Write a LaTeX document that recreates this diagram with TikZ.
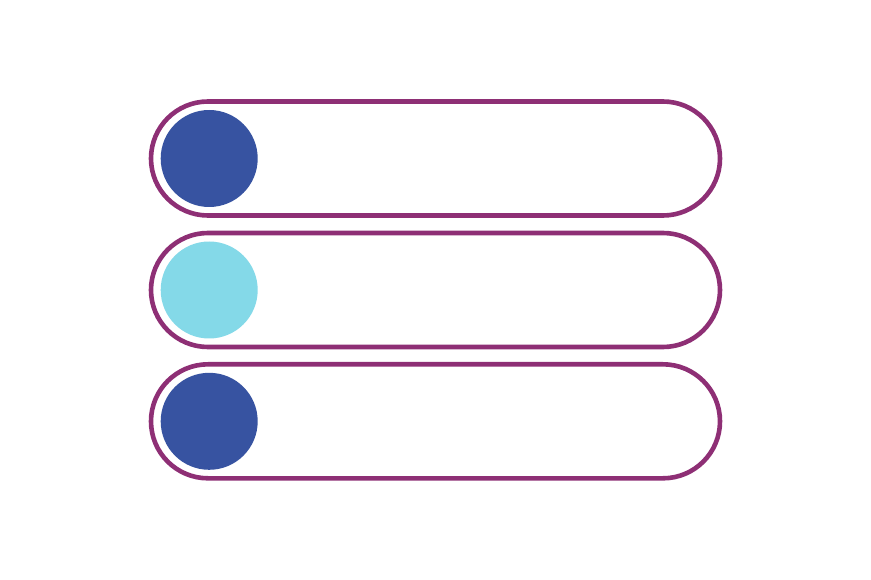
\documentclass[tikz,border=0pt]{standalone}
\definecolor{pillpurple}{HTML}{8E2F75}
\definecolor{darkblue}{HTML}{3753A1}
\definecolor{lightblue}{HTML}{84D9E8}
\begin{document}
\begin{tikzpicture}[x=1pt,y=-1pt,
  pill/.style={draw=pillpurple,line width=4.6pt,rounded corners=57pt,fill=white},
  dot/.style={circle,minimum size=97pt,inner sep=0pt,draw=none}]
\useasboundingbox (0,0) rectangle (871,580);
\foreach \y/\c/\n in {158.5/darkblue/a,290/lightblue/b,421.3/darkblue/c}{
  \draw[pill] (151,\y-57) rectangle (720,\y+57);
  \node[dot,fill=\c] (dot\n) at (209.2,\y) {};
}
\end{tikzpicture}
\end{document}
